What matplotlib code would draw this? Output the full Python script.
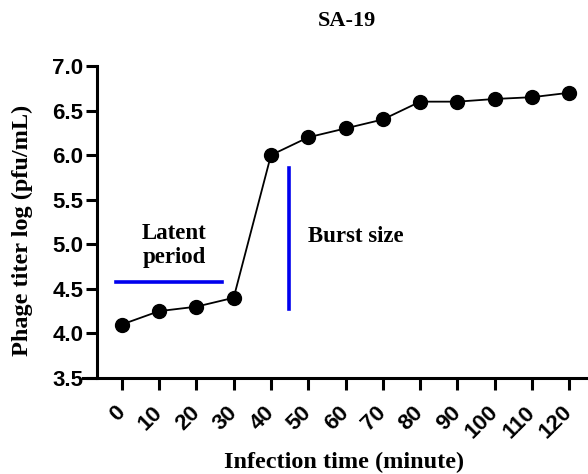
import matplotlib.pyplot as plt
import numpy as np

# Infection time (minutes) and phage titer (log pfu/mL)
times = [0, 10, 20, 30, 40, 50, 60, 70, 80, 90, 100, 110, 120]
titer = [4.1, 4.25, 4.3, 4.4, 6.0, 6.2, 6.3, 6.4, 6.6, 6.6, 6.63, 6.65, 6.7]
yticks = [3.5, 4.0, 4.5, 5.0, 5.5, 6.0, 6.5, 7.0]

# annotation lines
latent_x = [-1.6, 26.8]
latent_y = 4.58
burst_x = 44.9
burst_y = [4.27, 5.86]

fig = plt.figure(figsize=(5.88, 4.74), dpi=100)
ax = fig.add_axes([83 / 588, 96 / 474, 505 / 588, 312 / 474])

ax.plot(times, titer, color='black', lw=1.3, marker='o', markersize=10, zorder=3)

ax.plot(latent_x, [latent_y, latent_y], color='#0000ee', lw=2.6)
ax.plot([burst_x, burst_x], burst_y, color='#0000ee', lw=2.6)

serif = ['Times New Roman', 'Liberation Serif', 'DejaVu Serif']
ax.text(14.1, 5.06, 'Latent', ha='center', va='baseline', fontsize=16.5,
        fontweight='bold', family=serif)
ax.text(14.1, 4.79, 'period', ha='center', va='baseline', fontsize=16.5,
        fontweight='bold', family=serif)
ax.text(50, 5.03, 'Burst size', ha='left', va='baseline', fontsize=16.5,
        fontweight='bold', family=serif)

ax.set_xlim(-10.4, 125)
ax.set_ylim(3.5, 7.0)

for s in ['top', 'right']:
    ax.spines[s].set_visible(False)
ax.spines['left'].set_position(('data', -6.6))
ax.spines['left'].set_linewidth(2.2)
ax.spines['bottom'].set_linewidth(2.2)

ax.set_yticks(yticks)
ax.set_yticklabels([f'{v:.1f}' for v in yticks],
                   fontsize=16, fontweight='bold', family='Liberation Sans')
ax.set_xticks(times)
ax.set_xticklabels([str(t) for t in times], rotation=45, ha='right',
                   va='center', rotation_mode='anchor', fontsize=16,
                   fontweight='bold', family='Liberation Sans')
ax.tick_params(axis='y', length=8, width=2.2, pad=2)
ax.tick_params(axis='x', length=8.5, width=2.2, pad=14)

ax.set_ylabel('Phage titer log (pfu/mL)', fontsize=17.5, fontweight='bold',
              family=serif)
ax.yaxis.set_label_coords(-0.119, 0.474)
ax.yaxis.label.set_va('center')
ax.set_xlabel('Infection time (minute)', fontsize=17.5, fontweight='bold',
              family=serif)
ax.xaxis.set_label_coords(0.517, -0.288)
ax.xaxis.label.set_va('baseline')
fig.text(347 / 588, 1 - 21 / 474, 'SA-19', ha='center', va='center',
         fontsize=16, fontweight='bold', family=serif)

fig.savefig('out.png', dpi=100)
